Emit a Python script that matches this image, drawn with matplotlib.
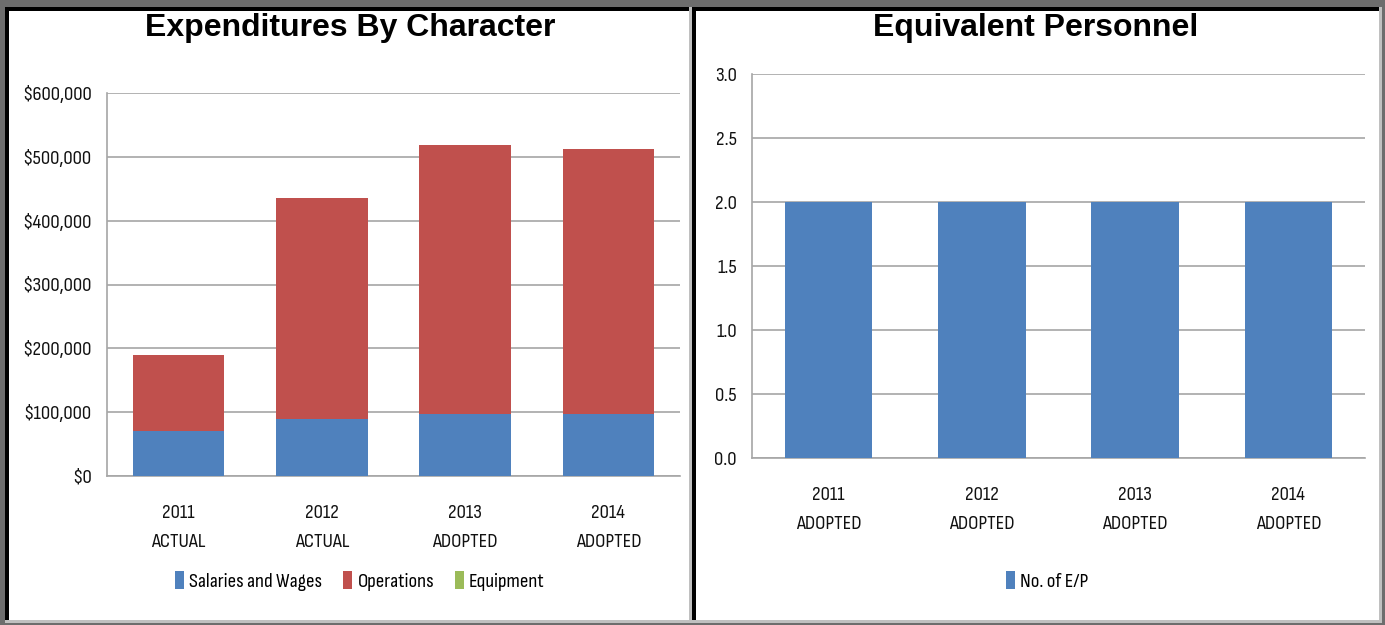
import matplotlib
matplotlib.use("Agg")
import matplotlib.pyplot as plt
from matplotlib.patches import Rectangle
from matplotlib.ticker import FuncFormatter, MultipleLocator
import numpy as np

# ---- data ----
exp_categories = ["2011\nACTUAL", "2012\nACTUAL", "2013\nADOPTED", "2014\nADOPTED"]
salaries = [70000, 89000, 97000, 97000]
operations = [120000, 347000, 422000, 415000]
equipment = [0, 0, 0, 0]

ep_categories = ["2011\nADOPTED", "2012\nADOPTED", "2013\nADOPTED", "2014\nADOPTED"]
ep_values = [2.0, 2.0, 2.0, 2.0]

BLUE = "#4f81bd"
RED = "#c0504d"
GREEN = "#9bbb59"
GRID = "#a6a6a6"

W, H = 1385, 625
NARROW = ["Sofia Sans Condensed", "PT Sans Narrow", "DejaVu Sans"]
TITLEF = ["Liberation Sans", "DejaVu Sans"]
FS = 15

fig = plt.figure(figsize=(W / 100, H / 100), dpi=100)
fig.patch.set_facecolor("#6d6d6d")


def frac_rect(x0, y0, x1, y1, color):
    r = Rectangle((x0 / W, 1 - y1 / H), (x1 - x0) / W, (y1 - y0) / H,
                  transform=fig.transFigure, facecolor=color, edgecolor="none",
                  zorder=-10)
    fig.add_artist(r)


# panel frames: black top/left, light gray bottom/right, white inside
for (x0, x1) in [(5, 692), (692, 1382)]:
    frac_rect(x0, 7, x1, 623, "#c0c0c0")
    frac_rect(x0, 7, x1 - 3, 620, "#000000")
    frac_rect(x0 + 4, 11, x1 - 3, 620, "#ffffff")


def px_axes(x0, y0, x1, y1):
    return fig.add_axes([x0 / W, 1 - y1 / H, (x1 - x0) / W, (y1 - y0) / H])


def style_axes(ax):
    ax.set_facecolor("none")
    for s in ["top", "right"]:
        ax.spines[s].set_visible(False)
    for s in ["left", "bottom"]:
        ax.spines[s].set_color(GRID)
        ax.spines[s].set_linewidth(1.2)
    ax.grid(axis="y", color=GRID, linewidth=1.2)
    ax.set_axisbelow(True)
    ax.tick_params(axis="both", length=0, labelsize=FS)
    ax.tick_params(axis="y", pad=11)
    ax.tick_params(axis="x", pad=20)
    for lab in ax.get_xticklabels() + ax.get_yticklabels():
        lab.set_family(NARROW)
        lab.set_color("#111111")


LEG = dict(frameon=False, prop={"family": NARROW, "size": FS}, handlelength=0.42,
           handleheight=1.0, handletextpad=0.26, columnspacing=1.0)

# ---- left chart ----
ax1 = px_axes(107, 93, 680, 476)
x = np.arange(len(exp_categories))
bw = 0.64
sal = np.array(salaries)
ops = np.array(operations)
eqp = np.array(equipment)
ax1.bar(x, sal, bw, color=BLUE, label="Salaries and Wages", zorder=3)
ax1.bar(x, ops, bw, bottom=sal, color=RED, label="Operations", zorder=3)
ax1.bar(x, eqp, bw, bottom=sal + ops, color=GREEN, label="Equipment", zorder=3)
ax1.set_xlim(-0.5, len(exp_categories) - 0.5)
ax1.set_ylim(0, 600000)
ax1.yaxis.set_major_locator(MultipleLocator(100000))
ax1.yaxis.set_major_formatter(FuncFormatter(lambda v, p: "${:,.0f}".format(v)))
ax1.set_xticks(x)
ax1.set_xticklabels(exp_categories, linespacing=1.8)
style_axes(ax1)
ax1.legend(loc="center", bbox_to_anchor=(360 / W, 1 - 581 / H),
           bbox_transform=fig.transFigure, ncol=3, **LEG)

fig.text(350 / W, 1 - 28 / H, "Expenditures By Character", ha="center", va="center",
         fontsize=23, fontweight="bold", family=TITLEF)

# ---- right chart ----
ax2 = px_axes(752, 74, 1365, 458)
x2 = np.arange(len(ep_categories))
ax2.bar(x2, ep_values, 0.57, color=BLUE, label="No. of E/P", zorder=3)
ax2.set_xlim(-0.5, len(ep_categories) - 0.5)
ax2.set_ylim(0, 3.0)
ax2.yaxis.set_major_locator(MultipleLocator(0.5))
ax2.yaxis.set_major_formatter(FuncFormatter(lambda v, p: "{:.1f}".format(v)))
ax2.set_xticks(x2)
ax2.set_xticklabels(ep_categories, linespacing=1.8)
style_axes(ax2)
ax2.legend(loc="center", bbox_to_anchor=(1047 / W, 1 - 581 / H),
           bbox_transform=fig.transFigure, ncol=1, **LEG)

fig.text(1036 / W, 1 - 28 / H, "Equivalent Personnel", ha="center", va="center",
         fontsize=23, fontweight="bold", family=TITLEF)

fig.savefig("out.png", dpi=100, facecolor=fig.get_facecolor())
